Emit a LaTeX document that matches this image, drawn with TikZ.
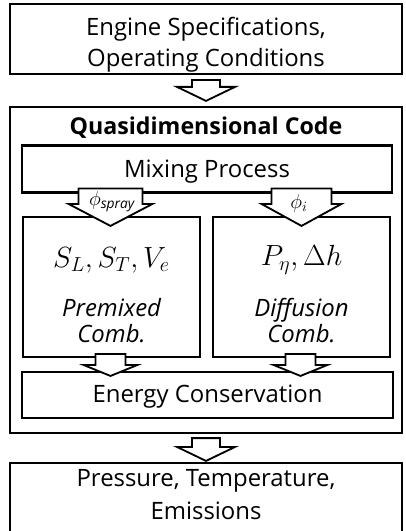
\documentclass[tikz,border=0pt]{standalone}
\usepackage{fontspec}
\setmainfont{Open Sans}
\usetikzlibrary{positioning,calc}
\newcommand{\fatarrow}[5]{%
  \draw[arrowline] ($(#1)+(-#3,0)$) -- ($(#2)+(-#3,-#5)$) -- ($(#2)+(-#4,-#5)$) -- (#2)
    -- ($(#2)+(#4,-#5)$) -- ($(#2)+(#3,-#5)$) -- ($(#1)+(#3,0)$) -- cycle;}
\begin{document}
\begin{tikzpicture}[x=0.025cm,y=-0.025cm,
  every node/.style={font=\fontsize{17}{22}\selectfont,align=center,inner sep=0pt},
  box/.style={draw,line width=1.5pt},
  arrowline/.style={draw,fill=white,line width=1.3pt,line join=miter},
  formula/.style={font=\fontsize{20}{20}\selectfont},
  combtext/.style={font=\fontsize{17}{18.5}\selectfont\itshape}]
\useasboundingbox (0,0) rectangle (406,531);
\clip (0,0) rectangle (406,531);
\node[box,minimum width=9.8cm,minimum height=1.75cm] (spec) at (206,39) {};
\node (spectext) at (206,44.5) {Engine Specifications,\\Operating Conditions};
\node[box,minimum width=9.8cm,minimum height=8.15cm] (quasi) at (206,270) {};
\node[font=\fontsize{16.5}{18}\selectfont\bfseries] (title) at (206,128) {Quasidimensional Code};
\node[box,minimum width=9.25cm,minimum height=1.175cm] (mix) at (207,169) {};
\node (mixtext) at (207,172) {Mixing Process};
\node[box,minimum width=4.425cm,minimum height=3.5cm] (premix) at (111.5,287) {};
\node[formula] (premixvar) at (111.5,260) {$S_L,S_T,V_e$};
\node[combtext] (premixtext) at (111.5,321) {Premixed\\Comb.};
\node[box,minimum width=4.425cm,minimum height=3.5cm] (diffuse) at (301.5,287) {};
\node[formula] (diffusevar) at (301.5,260) {$P_\eta,\Delta h$};
\node[combtext] (diffusetext) at (301.5,321) {Diffusion\\Comb.};
\node[box,minimum width=9.275cm,minimum height=1.15cm] (energy) at (207.5,395) {};
\node (energytext) at (207.5,397) {Energy Conservation};
\node[box,minimum width=9.8cm,minimum height=1.75cm] (result) at (206,498) {};
\node[font=\fontsize{17}{23.5}\selectfont] (resulttext) at (206,495) {Pressure, Temperature,\\Emissions};
\coordinate (a1s) at ($(spec.south)+(0,5)$);
\coordinate (a1t) at ($(quasi.north)+(0,-5)$);
\coordinate (a2s) at ($(premix.north|-mix.south)+(-1,-5)$);
\coordinate (a2t) at ($(premix.north)+(-1,10)$);
\coordinate (a3s) at ($(diffuse.north|-mix.south)+(0,-5)$);
\coordinate (a3t) at ($(diffuse.north)+(0,10)$);
\coordinate (a4s) at ($(premix.south)+(-1,-4)$);
\coordinate (a4t) at ($(energy.north-|premix.south)+(-1,5)$);
\coordinate (a5s) at ($(diffuse.south)+(-1,-4)$);
\coordinate (a5t) at ($(energy.north-|diffuse.south)+(-1,5)$);
\coordinate (a6s) at ($(quasi.south)+(0,4)$);
\coordinate (a6t) at ($(result.north)+(0,-1)$);
\fatarrow{a1s}{a1t}{14}{29}{14}
\fatarrow{a2s}{a2t}{32}{42}{22}
\fatarrow{a3s}{a3t}{30}{40}{22}
\fatarrow{a4s}{a4t}{15}{27}{11}
\fatarrow{a5s}{a5t}{15}{27}{11}
\fatarrow{a6s}{a6t}{14}{29}{14}
\node[font=\fontsize{14}{14}\selectfont] (spray) at (112,202) {$\phi_{\mathit{spray}}$};
\node[font=\fontsize{14}{14}\selectfont] (inj) at (299,203) {$\phi_i$};
\end{tikzpicture}
\end{document}
